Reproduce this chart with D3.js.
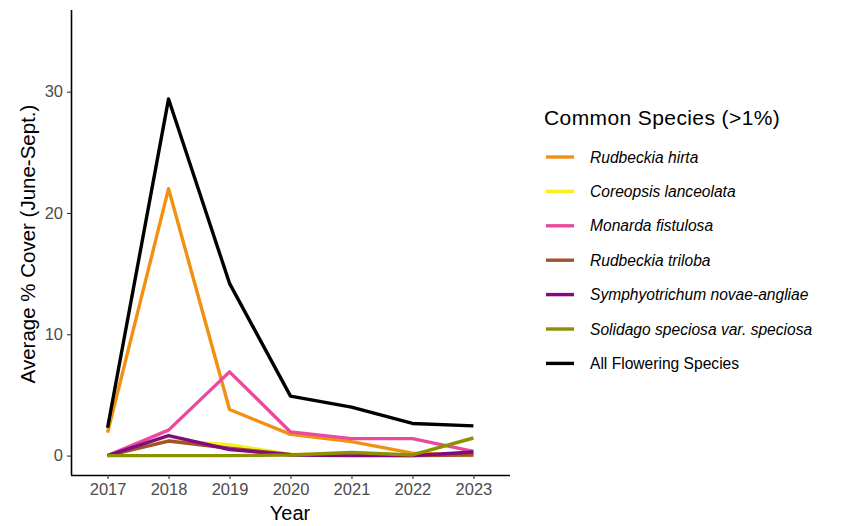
<!DOCTYPE html>
<html>
<head>
<meta charset="utf-8">
<script src="https://cdn.jsdelivr.net/npm/d3@7"></script>
<style>
  body { margin: 0; background: #fff; }
  svg { display: block; font-family: "Liberation Sans", Arial, sans-serif; }
</style>
</head>
<body>
<svg id="chart" width="850" height="526"></svg>
<script>
// Survey years
const years = [2017, 2018, 2019, 2020, 2021, 2022, 2023];

// Average % cover (June–Sept.) per species
const rudbeckiaHirta   = [1.9, 22.0, 3.8, 1.75, 1.15, 0.2, 0.05];
const coreopsis        = [0.0, 1.25, 0.9, 0.1, 0.1, 0.0, 0.0];
const monarda          = [0.0, 2.1, 6.9, 1.95, 1.4, 1.4, 0.35];
const rudbeckiaTriloba = [0.0, 1.2, 0.6, 0.1, 0.05, 0.0, 0.05];
const symphyotrichum   = [0.0, 1.65, 0.5, 0.05, 0.0, 0.0, 0.3];
const solidago         = [0.0, 0.0, 0.0, 0.05, 0.25, 0.05, 1.45];
const allFlowering     = [2.3, 29.4, 14.2, 4.9, 4.0, 2.65, 2.45];

const seriesNames = [
  "Rudbeckia hirta", "Coreopsis lanceolata", "Monarda fistulosa",
  "Rudbeckia triloba", "Symphyotrichum novae-angliae",
  "Solidago speciosa var. speciosa", "All Flowering Species"
];
const seriesValues = [rudbeckiaHirta, coreopsis, monarda, rudbeckiaTriloba,
  symphyotrichum, solidago, allFlowering];
const seriesColors = ["#F29111", "#F7F01C", "#EA4A9C", "#A0522D",
  "#800A80", "#8C9100", "#000000"];
const yTicks = [0, 10, 20, 30];

const svg = d3.select("#chart");

const x = d3.scaleLinear().domain([2016.4, 2023.6]).range([71, 510]);
const y = d3.scaleLinear().domain([-1.6, 36.73]).range([475, 10]);

// Axes
const xAxis = d3.axisBottom(x).tickValues(years).tickFormat(d3.format("d"))
  .tickSize(4).tickPadding(4);
const yAxis = d3.axisLeft(y).tickValues(yTicks).tickSize(4).tickPadding(4);

const gx = svg.append("g").attr("transform", "translate(0,475)").call(xAxis);
const gy = svg.append("g").attr("transform", "translate(71,0)").call(yAxis);

[gx, gy].forEach(g => {
  g.select(".domain").attr("stroke", "#000").attr("stroke-width", 1.6);
  g.selectAll(".tick line").attr("stroke", "#333").attr("stroke-width", 1.1);
  g.selectAll(".tick text").attr("fill", "#4D4D4D").style("font-size", "16.5px")
    .style("font-family", "Liberation Sans, Arial, sans-serif");
});
gx.select(".domain").attr("d", "M71,0.5H510");
gy.select(".domain").attr("d", "M0.5,10V475");

// Axis titles
svg.append("text").attr("x", 290).attr("y", 520).attr("text-anchor", "middle")
  .style("font-size", "20px").attr("fill", "#000").text("Year");
svg.append("text")
  .attr("transform", "translate(35,244) rotate(-90)")
  .attr("text-anchor", "middle").style("font-size", "20.5px").attr("fill", "#000")
  .text("Average % Cover (June-Sept.)");

// Lines
const line = d3.line().x((d, i) => x(years[i])).y(d => y(d));
seriesValues.forEach((vals, k) => {
  svg.append("path").datum(vals)
    .attr("fill", "none")
    .attr("stroke", seriesColors[k])
    .attr("stroke-width", 3.4)
    .attr("stroke-linejoin", "round")
    .attr("d", line);
});

// Legend
const legend = svg.append("g");
legend.append("text").attr("x", 544).attr("y", 125)
  .style("font-size", "21px").style("letter-spacing", "0.4px")
  .attr("fill", "#000").text("Common Species (>1%)");
seriesNames.forEach((name, k) => {
  const cy = 157 + k * 34.4;
  legend.append("line").attr("x1", 546).attr("x2", 574).attr("y1", cy).attr("y2", cy)
    .attr("stroke", seriesColors[k]).attr("stroke-width", 3.4);
  legend.append("text").attr("x", 590).attr("y", cy + 5.5)
    .style("font-size", "15.6px")
    .style("font-style", k < 6 ? "italic" : "normal")
    .attr("fill", "#000").text(name);
});
</script>
</body>
</html>
